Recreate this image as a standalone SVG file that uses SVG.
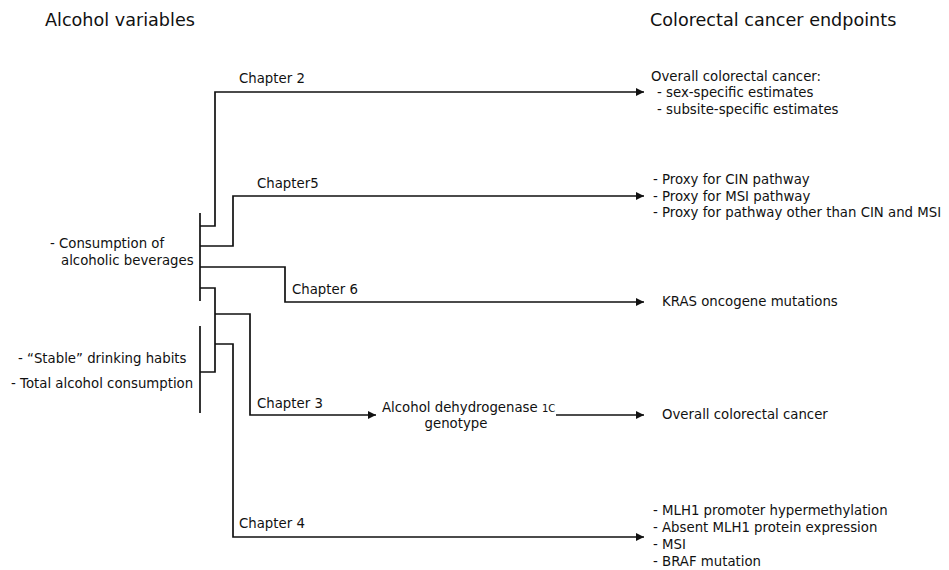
<svg xmlns="http://www.w3.org/2000/svg" width="949" height="570" viewBox="0 0 949 570">
<style>
text{font-family:"DejaVu Sans","Liberation Sans",sans-serif;font-size:13.3px;fill:#111}
.h{font-size:17.6px}
.c{fill:none;stroke:#111;stroke-width:1.7}
</style>
<defs>
<marker id="ah" markerUnits="userSpaceOnUse" markerWidth="9" markerHeight="9" refX="8" refY="4" orient="auto" viewBox="0 0 9 8">
<path d="M0,0 L8,4 L0,8 z" fill="#111"/>
</marker>
</defs>
<rect width="949" height="570" fill="#fff"/>
<g id="headers">
<text class="h" x="45" y="26">Alcohol variables</text>
<text class="h" x="650" y="26">Colorectal cancer endpoints</text>
</g>
<g id="bars">
<line class="c" x1="200" y1="213" x2="200" y2="301"/>
<line class="c" x1="200" y1="326" x2="200" y2="413"/>
</g>
<g id="connectors">
<path class="c" d="M200 226 H215 V92 H644" marker-end="url(#ah)"/>
<path class="c" d="M200 246 H233 V196 H644" marker-end="url(#ah)"/>
<path class="c" d="M200 267 H285 V302 H644" marker-end="url(#ah)"/>
<path class="c" d="M200 288 H215 V372 H200"/>
<path class="c" d="M215 314 H250 V415 H376" marker-end="url(#ah)"/>
<path class="c" d="M215 344 H233 V537 H644" marker-end="url(#ah)"/>
<path class="c" d="M556 415 H644" marker-end="url(#ah)"/>
</g>
<g id="labels">
<text x="239" y="83">Chapter 2</text>
<text x="257" y="188">Chapter5</text>
<text x="292" y="294">Chapter 6</text>
<text x="257" y="408">Chapter 3</text>
<text x="239" y="528">Chapter 4</text>
</g>
<g id="var-consumption">
<text x="50" y="248">- Consumption of</text>
<text x="61" y="265">alcoholic beverages</text>
</g>
<g id="var-stable">
<text x="18" y="363">- “Stable” drinking habits</text>
<text x="11" y="388">- Total alcohol consumption</text>
</g>
<g id="adh1c">
<text x="382" y="412">Alcohol dehydrogenase <tspan font-size="10">1C</tspan></text>
<text x="456" y="428" text-anchor="middle">genotype</text>
</g>
<g id="end-ch2">
<text x="651" y="81">Overall colorectal cancer:</text>
<text x="657" y="97">- sex-specific estimates</text>
<text x="657" y="114">- subsite-specific estimates</text>
</g>
<g id="end-ch5">
<text x="653" y="184">- Proxy for CIN pathway</text>
<text x="653" y="201">- Proxy for MSI pathway</text>
<text x="653" y="217">- Proxy for pathway other than CIN and MSI</text>
</g>
<g id="end-ch6">
<text x="662" y="306">KRAS oncogene mutations</text>
</g>
<g id="end-ch3">
<text x="662" y="419">Overall colorectal cancer</text>
</g>
<g id="end-ch4">
<text x="653" y="515">- MLH1 promoter hypermethylation</text>
<text x="653" y="532">- Absent MLH1 protein expression</text>
<text x="653" y="549">- MSI</text>
<text x="653" y="566">- BRAF mutation</text>
</g>
</svg>
